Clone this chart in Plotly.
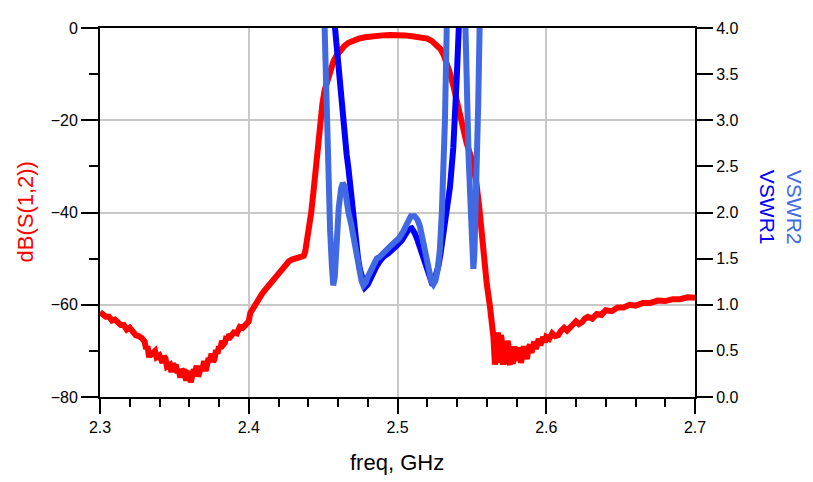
import plotly.graph_objects as go

# dB(S(1,2)) trace
s12_freq = [2.300, 2.302, 2.304, 2.306, 2.308, 2.310, 2.312, 2.314, 2.316, 2.318,
            2.320, 2.322, 2.324, 2.326, 2.328, 2.330, 2.331, 2.332, 2.333, 2.334,
            2.335, 2.337, 2.338, 2.340, 2.341, 2.342, 2.343, 2.344, 2.345, 2.347,
            2.348, 2.349, 2.350, 2.351, 2.352, 2.353, 2.354, 2.355, 2.356, 2.357,
            2.358, 2.359, 2.360, 2.361, 2.362, 2.363, 2.364, 2.365, 2.366, 2.367,
            2.368, 2.369, 2.370, 2.371, 2.372, 2.373, 2.374, 2.375, 2.376, 2.377,
            2.378, 2.379, 2.380, 2.381, 2.382, 2.383, 2.384, 2.385, 2.386, 2.387,
            2.388, 2.390, 2.392, 2.394, 2.396, 2.398, 2.400, 2.401, 2.403, 2.405,
            2.407, 2.409, 2.411, 2.413, 2.415, 2.417, 2.419, 2.421, 2.423, 2.425,
            2.427, 2.429, 2.431, 2.433, 2.435, 2.437, 2.438, 2.439, 2.4405, 2.442,
            2.4435, 2.4455, 2.4475, 2.4495, 2.451, 2.453, 2.455, 2.457, 2.459, 2.461,
            2.464, 2.467, 2.470, 2.474, 2.478, 2.482, 2.486, 2.490, 2.495, 2.500,
            2.505, 2.510, 2.515, 2.520, 2.523, 2.526, 2.529, 2.531, 2.533, 2.535,
            2.5375, 2.540, 2.543, 2.5465, 2.550, 2.553, 2.555, 2.5565, 2.558, 2.560,
            2.562, 2.5635, 2.5645, 2.5655, 2.566, 2.5665, 2.567, 2.5675, 2.568, 2.5685,
            2.569, 2.5695, 2.570, 2.5705, 2.571, 2.5715, 2.572, 2.5725, 2.573, 2.5735,
            2.574, 2.5745, 2.575, 2.5755, 2.576, 2.5765, 2.577, 2.5775, 2.578, 2.5785,
            2.579, 2.5795, 2.580, 2.581, 2.582, 2.583, 2.584, 2.585, 2.586, 2.587,
            2.588, 2.589, 2.590, 2.591, 2.592, 2.593, 2.594, 2.595, 2.596, 2.597,
            2.598, 2.599, 2.600, 2.602, 2.604, 2.606, 2.608, 2.610, 2.612, 2.614,
            2.616, 2.618, 2.620, 2.622, 2.624, 2.626, 2.628, 2.631, 2.634, 2.637,
            2.640, 2.644, 2.648, 2.652, 2.656, 2.660, 2.665, 2.670, 2.675, 2.680,
            2.685, 2.690, 2.695, 2.700]
s12_db = [-61.6, -62.0, -62.6, -62.6, -63.4, -63.2, -64.0, -64.4, -64.4, -65.4,
          -65.0, -65.8, -66.6, -66.8, -67.2, -68.0, -69.6, -69.0, -71.4, -70.2,
          -70.6, -70.0, -71.4, -71.0, -71.8, -72.6, -71.2, -71.6, -73.4, -73.0,
          -74.6, -72.8, -73.4, -73.0, -74.8, -74.2, -75.8, -74.0, -74.4, -75.4,
          -76.4, -74.8, -75.0, -76.8, -75.6, -74.0, -74.6, -73.2, -75.6, -74.6,
          -73.4, -73.8, -72.2, -74.4, -73.0, -71.6, -72.0, -70.6, -72.4, -71.8,
          -69.8, -70.6, -69.0, -69.4, -67.8, -68.6, -68.2, -66.8, -67.6, -66.4,
          -66.8, -66.0, -66.2, -64.8, -65.0, -64.0, -63.6, -61.8, -60.6, -59.6,
          -58.8, -57.6, -56.8, -56.0, -55.0, -54.4, -53.4, -52.6, -51.8, -51.2,
          -50.6, -50.2, -50.0, -49.9, -49.7, -49.4, -48.4, -46.5, -43.5, -40.0,
          -35.5, -29.0, -21.5, -16.5, -13.5, -11.0, -9.0, -7.2, -6.0, -5.0,
          -4.0, -3.2, -2.7, -2.3, -2.0, -1.8, -1.7, -1.6, -1.5, -1.4,
          -1.6, -1.8, -2.0, -2.3, -2.8, -3.6, -4.6, -5.8, -7.5, -9.5,
          -12.5, -16.0, -20.0, -25.0, -28.5, -33.5, -39.0, -45.0, -49.0, -55.5,
          -60.0, -63.5, -67.0, -73.0, -70.0, -72.8, -67.0, -66.0, -69.4, -72.6,
          -71.6, -66.6, -67.4, -71.8, -73.0, -70.4, -68.0, -69.2, -72.4, -71.0,
          -67.8, -68.6, -72.6, -73.0, -70.2, -69.6, -71.6, -72.8, -71.4, -69.0,
          -70.6, -72.2, -71.0, -69.4, -70.0, -72.6, -70.8, -69.0, -70.2, -71.8,
          -69.6, -68.6, -70.4, -69.0, -68.0, -69.6, -68.4, -67.4, -68.8, -67.6,
          -67.0, -68.2, -67.0, -67.4, -66.2, -66.8, -66.6, -65.6, -65.0, -65.6,
          -64.8, -64.4, -63.6, -64.2, -63.8, -63.0, -62.6, -63.0, -62.0, -62.2,
          -61.2, -61.4, -60.6, -60.6, -60.0, -60.2, -59.6, -59.6, -59.1, -59.2,
          -58.8, -58.8, -58.4, -58.5]

# VSWR1 trace
vswr1_freq = [2.300, 2.420, 2.445, 2.455, 2.4575, 2.458, 2.4595, 2.461, 2.4625, 2.4636,
              2.4648, 2.4658, 2.467, 2.4681, 2.4692, 2.4703, 2.472, 2.4735, 2.4748, 2.4765,
              2.4782, 2.480, 2.482, 2.484, 2.486, 2.488, 2.4905, 2.494, 2.4972, 2.500,
              2.503, 2.5055, 2.5075, 2.5095, 2.5115, 2.5135, 2.5155, 2.5175, 2.5195, 2.5215,
              2.523, 2.5245, 2.526, 2.5275, 2.529, 2.5308, 2.533, 2.5353, 2.5375, 2.539,
              2.5398, 2.5412, 2.542, 2.545, 2.560, 2.700]
vswr1_val = [18, 10, 6, 4.6, 4.3, 4.0, 3.7, 3.4, 3.15, 3.0,
             2.8, 2.63, 2.48, 2.3, 2.1, 1.92, 1.68, 1.5, 1.38, 1.25,
             1.19, 1.22, 1.30, 1.37, 1.42, 1.47, 1.52, 1.56, 1.60, 1.65,
             1.70, 1.77, 1.82, 1.83, 1.78, 1.70, 1.60, 1.48, 1.38, 1.28,
             1.24, 1.25, 1.32, 1.42, 1.56, 1.75, 2.0, 2.28, 2.7, 3.1,
             3.45, 4.0, 4.3, 5, 8, 15]

# VSWR2 trace
vswr2_freq = [2.300, 2.420, 2.440, 2.447, 2.4505, 2.451, 2.4517, 2.4524, 2.4535, 2.4547,
              2.4558, 2.4568, 2.4578, 2.459, 2.4605, 2.462, 2.4632, 2.4645, 2.4655, 2.467,
              2.4688, 2.4703, 2.472, 2.474, 2.4758, 2.477, 2.4785, 2.480, 2.482, 2.484,
              2.486, 2.488, 2.4905, 2.493, 2.4955, 2.498, 2.501, 2.504, 2.5065, 2.509,
              2.5115, 2.5135, 2.5151, 2.517, 2.519, 2.521, 2.5228, 2.5241, 2.5255, 2.527,
              2.5285, 2.5298, 2.5308, 2.5319, 2.5331, 2.534, 2.539, 2.5448, 2.5455, 2.5465,
              2.5478, 2.5487, 2.5495, 2.5503, 2.551, 2.5517, 2.5524, 2.5532, 2.5543, 2.5552,
              2.557, 2.600, 2.700]
vswr2_val = [20, 10, 6, 4.6, 4.3, 4.0, 3.3, 2.63, 2.2, 1.8,
             1.45, 1.21, 1.3, 1.7, 2.05, 2.25, 2.32, 2.28, 2.15, 2.0,
             1.88, 1.74, 1.55, 1.38, 1.26, 1.21, 1.24, 1.30, 1.38, 1.44,
             1.50, 1.52, 1.57, 1.60, 1.64, 1.67, 1.72, 1.80, 1.90, 1.96,
             1.96, 1.92, 1.85, 1.70, 1.52, 1.36, 1.25, 1.22, 1.26, 1.38,
             1.6, 2.0, 2.4, 3.0, 4.0, 4.6, 5.5, 4.6, 4.0, 3.0,
             2.6, 2.25, 1.8, 1.5, 1.39, 1.55, 1.9, 2.3, 3.2, 4.0,
             5, 10, 18]

x_ticks = [2.3, 2.4, 2.5, 2.6, 2.7]

FONT = "Liberation Sans, Arial, sans-serif"
RED = "#ff0000"; BLUE1 = "#0000ff"; BLUE2 = "#4169e1"; GRID = "#c8c8c8"

fig = go.Figure()
fig.add_trace(go.Scatter(x=s12_freq, y=s12_db, mode="lines", name="dB(S(1,2))",
                         line=dict(color=RED, width=6)))
fig.add_trace(go.Scatter(x=vswr1_freq, y=vswr1_val, mode="lines", name="VSWR1", yaxis="y2",
                         line=dict(color=BLUE1, width=6)))
fig.add_trace(go.Scatter(x=vswr2_freq, y=vswr2_val, mode="lines", name="VSWR2", yaxis="y2",
                         line=dict(color=BLUE2, width=6)))

# page body has an 8px margin, so the figure is 8px smaller and margins shifted
fig.update_layout(
    width=805, height=474, showlegend=False,
    paper_bgcolor="white", plot_bgcolor="white",
    margin=dict(l=92, r=118, t=14, b=85),
    font=dict(family=FONT, size=16, color="black"),
    xaxis=dict(range=[2.3, 2.7], tickvals=x_ticks, ticktext=[f"{v:.1f}" for v in x_ticks],
               showgrid=True, gridcolor=GRID, gridwidth=1.5, zeroline=False,
               showline=True, linecolor="black", linewidth=2, mirror=True,
               ticks="outside", ticklen=15, tickwidth=2, tickcolor="black",
               minor=dict(dtick=0.02, ticks="outside", ticklen=8, tickwidth=2,
                          tickcolor="black", showgrid=False)),
    yaxis=dict(range=[-80, 0], dtick=20, showgrid=True, gridcolor=GRID, gridwidth=1.5,
               zeroline=False, showline=True, linecolor="black", linewidth=2,
               ticks="outside", ticklen=17, tickwidth=2, tickcolor="black",
               minor=dict(dtick=10, ticks="outside", ticklen=9, tickwidth=2,
                          tickcolor="black", showgrid=False)),
    yaxis2=dict(range=[0, 4], dtick=0.5, tickformat=".1f", overlaying="y", side="right",
                showgrid=False, zeroline=False, showline=True, linecolor="black",
                linewidth=2, ticks="outside", ticklen=16, tickwidth=2, tickcolor="black"),
)

fig.add_annotation(text="freq, GHz", xref="paper", yref="paper", x=0.499, y=-0.1785,
                   showarrow=False, xanchor="center", yanchor="middle",
                   font=dict(size=22, color="black"))
fig.add_annotation(text="dB(S(1,2))", xref="paper", yref="paper", x=-0.126, y=0.5,
                   showarrow=False, textangle=-90, xanchor="center", yanchor="middle",
                   font=dict(size=22, color=RED))
fig.add_annotation(text=f"<span style='color:{BLUE2}'>VSWR2</span><br><span style='color:{BLUE1}'>VSWR1</span>",
                   xref="paper", yref="paper", x=1.1437, y=0.514, showarrow=False,
                   textangle=90, xanchor="center", yanchor="middle",
                   font=dict(size=21))

fig.write_html("out.html")
